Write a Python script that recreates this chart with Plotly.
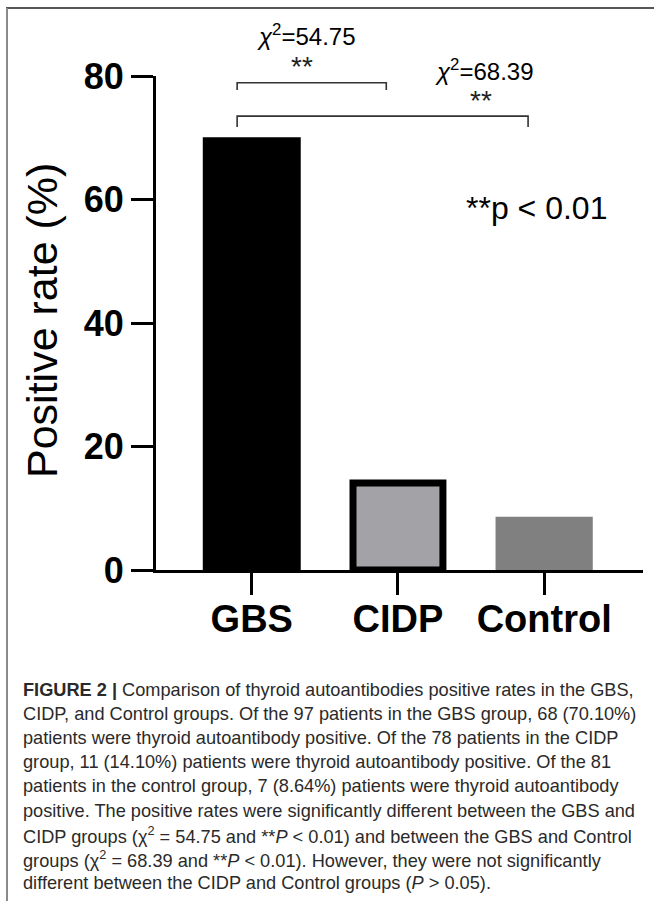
import plotly.graph_objects as go

# ---- data ----
categories = ["GBS", "CIDP", "Control"]
positive_rate = [70.10, 14.10, 8.64]
y_ticks = [0, 20, 40, 60, 80]
comparisons = [("GBS", "CIDP", "χ<sup>2</sup>=54.75", "**"),
               ("GBS", "Control", "χ<sup>2</sup>=68.39", "**")]
caption_lines = [
    "<b>FIGURE 2 |</b> Comparison of thyroid autoantibodies positive rates in the GBS,",
    "CIDP, and Control groups. Of the 97 patients in the GBS group, 68 (70.10%)",
    "patients were thyroid autoantibody positive. Of the 78 patients in the CIDP",
    "group, 11 (14.10%) patients were thyroid autoantibody positive. Of the 81",
    "patients in the control group, 7 (8.64%) patients were thyroid autoantibody",
    "positive. The positive rates were significantly different between the GBS and",
    "CIDP groups (χ<sup>2</sup> = 54.75 and **<i>P</i> &lt; 0.01) and between the GBS and Control",
    "groups (χ<sup>2</sup> = 68.39 and **<i>P</i> &lt; 0.01). However, they were not significantly",
    "different between the CIDP and Control groups (<i>P</i> &gt; 0.05).",
]

W, H = 654, 901
def px(x):
    return x / W
def py(y):
    return (H - y) / H

bar_colors = ["#000000", "#a3a3a7", "#808080"]
bar_line_colors = ["#000000", "#000000", "#808080"]
bar_line_widths = [0, 7, 0]
bar_widths = [0.67, 0.615, 0.665]

fig = go.Figure()
fig.add_trace(go.Bar(
    x=list(range(len(categories))), y=positive_rate,
    width=bar_widths,
    marker=dict(color=bar_colors, line=dict(color=bar_line_colors, width=bar_line_widths)),
    showlegend=False, hoverinfo="skip",
))

axis_font = dict(family="Liberation Sans, Arial, sans-serif", color="#000000")
fig.update_layout(
    width=W, height=H, margin=dict(l=0, r=0, t=0, b=0, pad=0, autoexpand=False),
    paper_bgcolor="white", plot_bgcolor="white",
    xaxis=dict(domain=[px(156), px(643)], range=[-0.655, 2.676], automargin=False,
               tickvals=list(range(len(categories))), ticktext=[f"<b>{c}</b>" for c in categories],
               showline=True, linewidth=3, linecolor="black",
               ticks="outside", ticklen=22, tickwidth=3, tickcolor="black",
               tickfont=dict(size=38, **axis_font), showgrid=False, zeroline=False,
               ticklabelstandoff=-9, fixedrange=True),
    yaxis=dict(domain=[py(570), py(76)], range=[0, 80], tickvals=y_ticks, automargin=False,
               ticktext=[f"<b>{t}</b>" for t in y_ticks],
               showline=True, linewidth=3, linecolor="black",
               ticks="outside", ticklen=22, tickwidth=3, tickcolor="black",
               tickfont=dict(size=36, **axis_font), showgrid=False, zeroline=False,
               fixedrange=True),
    bargap=0.3,
)

# y-axis title
fig.add_annotation(text="Positive rate (%)", xref="paper", yref="paper",
                   x=px(42), y=py(321), textangle=-90, showarrow=False,
                   xanchor="center", yanchor="middle",
                   font=dict(size=43, **axis_font))

# significance brackets
bracket_specs = [dict(y=78.9, drop=1.15, lx=-0.10, rx=-0.08, tx=306, ty=35, sx=302, sy=67),
                 dict(y=73.5, drop=1.75, lx=-0.10, rx=-0.11, tx=484, ty=70, sx=481, sy=101)]
for (a, b, chi, star), s in zip(comparisons, bracket_specs):
    xa = categories.index(a) + s["lx"]
    xb = categories.index(b) + s["rx"]
    fig.add_trace(go.Scatter(x=[xa, xa, xb, xb], y=[s["y"] - s["drop"], s["y"], s["y"], s["y"] - s["drop"]],
                             mode="lines", line=dict(color="#333333", width=1.6),
                             showlegend=False, hoverinfo="skip", cliponaxis=False))
    fig.add_annotation(text=f"<i>{chi[0]}</i>{chi[1:]}", xref="paper", yref="paper",
                       x=px(s["tx"]), y=py(s["ty"]), showarrow=False,
                       xanchor="center", yanchor="middle",
                       font=dict(size=24, **axis_font))
    fig.add_annotation(text=star, xref="paper", yref="paper",
                       x=px(s["sx"]), y=py(s["sy"]), showarrow=False,
                       xanchor="center", yanchor="middle",
                       font=dict(size=28, family="Liberation Sans, Arial, sans-serif", color="#222222"))

fig.add_annotation(text="**p &lt; 0.01", xref="paper", yref="paper",
                   x=px(536), y=py(208), showarrow=False,
                   xanchor="center", yanchor="middle",
                   font=dict(size=32, **axis_font))

# caption
cap_font = dict(family="Liberation Sans, Arial, sans-serif", size=18.2, color="#2a2a2a")
for i, line in enumerate(caption_lines):
    fig.add_annotation(text=line, xref="paper", yref="paper",
                       x=px(21), y=py(690 + i * 24.1), showarrow=False,
                       xanchor="left", yanchor="middle", align="left", font=cap_font)

# frame
fig.add_shape(type="line", xref="paper", yref="paper", x0=px(6), x1=1, y0=py(8), y1=py(8),
              line=dict(color="#555555", width=2))
fig.add_shape(type="line", xref="paper", yref="paper", x0=px(7), x1=px(7), y0=py(8), y1=0,
              line=dict(color="#8a8a8a", width=2))

fig.write_html("out.html", config={"displayModeBar": False},
               post_script="document.body.style.margin='0';document.body.style.overflow='hidden';")
